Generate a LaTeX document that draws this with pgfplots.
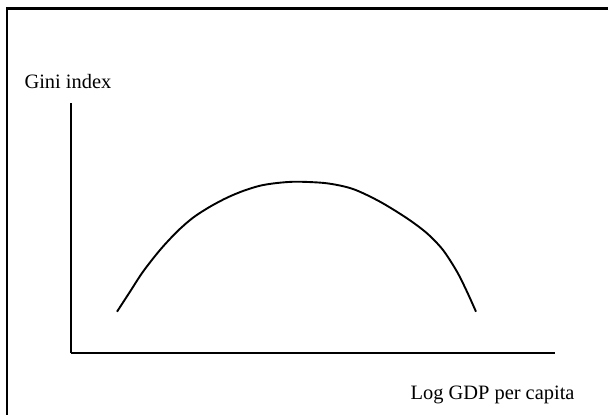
\documentclass[border=0pt]{standalone}
\usepackage{pgfplots}
\pgfplotsset{compat=1.18}
\usepackage{fontspec}
\setmainfont{Liberation Serif}

\begin{document}
\begin{tikzpicture}[x=1bp,y=1bp]
\begin{axis}[
    scale only axis,
    width=484bp, height=250bp,
    xmin=71, xmax=555,
    ymin=62, ymax=312,
    axis lines=left,
    axis line style={-, line width=2.6bp},
    xtick=\empty, ytick=\empty,
    clip=false,
]
% stylised Kuznets curve (pixel units)
\addplot[black, line width=1.9bp, smooth] coordinates {
    (117,103.3) (130,123.3) (143,143.3) (160,165) (177,183.3) (193,197.3)
    (210,208.3) (227,217.3) (243,224) (260,229.3) (277,232) (297,233.3)
    (327,231.7) (353,226) (380,213.3) (407,196.7) (427,181.7) (443,165)
    (457,143.3) (467,123.3) (476,103.3)
};
\node[anchor=base west, font=\fontsize{20.5}{24}\selectfont] at (axis cs:21,327) {Gini index};
\node[anchor=base east, font=\fontsize{20.5}{24}\selectfont] at (axis cs:578,16) {Log GDP per capita};
% frame (top and left edges)
\draw[line width=2.5bp] (axis cs:7,0) -- (axis cs:7,406.5) -- (axis cs:608,406.5);
\coordinate (bl) at (axis cs:0,0);
\coordinate (tr) at (axis cs:608,415);
\end{axis}
\pgfresetboundingbox
\path[use as bounding box] (bl) rectangle (tr);
\end{tikzpicture}
\end{document}
